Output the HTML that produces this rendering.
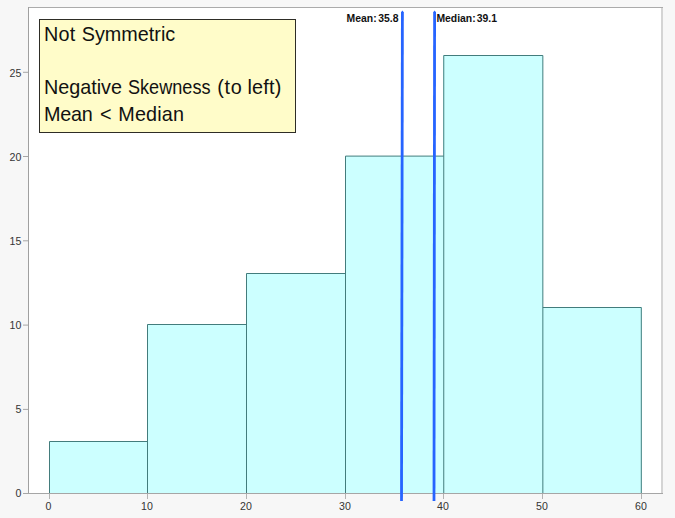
<!DOCTYPE html>
<html>
<head>
<meta charset="utf-8">
<title>Histogram</title>
<style>
html,body{margin:0;padding:0;}
body{width:675px;height:518px;background:#f7f7f7;position:relative;overflow:hidden;font-family:"Liberation Sans",sans-serif;}
.abs{position:absolute;}
#plot{position:absolute;left:29px;top:8px;width:632px;height:485px;background:#fff;}
.bar{position:absolute;background:#ccffff;border:1px solid #4d8a8a;box-sizing:border-box;}
.vl{position:absolute;background:#2f6bff;width:3px;}
.tick{position:absolute;background:#b2b2b2;}
.xl{position:absolute;font-size:10.6px;color:#353535;width:40px;text-align:center;top:500px;line-height:12px;}
.yl{position:absolute;font-size:10.6px;color:#353535;width:21.4px;text-align:right;left:0;line-height:12px;}
.ml{position:absolute;font-size:10.4px;font-weight:bold;color:#111;top:13px;line-height:12px;white-space:nowrap;}
#note{position:absolute;left:39px;top:19px;width:257px;height:114px;box-sizing:border-box;border:1px solid #2e2d26;background:#fffcc9;}
#note div{position:absolute;font-size:19.8px;color:#111;white-space:nowrap;line-height:22px;}
</style>
</head>
<body>
<div id="plot"></div>
<!-- frame -->
<div class="abs" style="left:28px;top:7px;width:635px;height:1px;background:#ababab;"></div>
<div class="abs" style="left:28px;top:7px;width:1px;height:487px;background:#a0a0a0;"></div>
<div class="abs" style="left:661px;top:8px;width:2px;height:486px;background:#d4d4d4;"></div>
<div class="abs" style="left:23px;top:493px;width:640px;height:1px;background:#a6a6a6;"></div>

<!-- bars -->
<svg class="abs" style="left:0;top:0;" width="675" height="518" viewBox="0 0 675 518">
<g fill="#ccffff" stroke="none" shape-rendering="crispEdges">
<rect x="49" y="441" width="99" height="52"/>
<rect x="147" y="324" width="100" height="169"/>
<rect x="246" y="273" width="100" height="220"/>
<rect x="345" y="156" width="99" height="337"/>
<rect x="443" y="55" width="100" height="438"/>
<rect x="542" y="307" width="100" height="186"/>
</g>
<g fill="none" stroke="#437c7c" stroke-width="1">
<path d="M49.5 493 V441.5 H147.5"/>
<path d="M147.5 493 V324.5 H246.5"/>
<path d="M246.5 493 V273.5 H345.5"/>
<path d="M345.5 493 V156.1 H443.75"/>
<path d="M443.75 493 V55.5 H542.85 V493"/>
<path d="M542.85 307.5 H641.3 V493"/>
</g>
</svg>
<div class="abs" style="left:29px;top:493px;width:634px;height:1px;background:#a6a6a6;"></div>

<!-- y ticks -->
<svg class="abs" style="left:0;top:0;" width="675" height="518" viewBox="0 0 675 518">
<g stroke="#a6a6a6" stroke-width="1" fill="none">
<path d="M23 72.3H28"/>
<path d="M23 156.5H28"/>
<path d="M23 240.8H28"/>
<path d="M23 325.1H28"/>
<path d="M23 409.4H28"/>
</g>
</svg>
<!-- x ticks -->
<div class="tick" style="left:49px;top:494px;width:1px;height:5px;"></div>
<div class="tick" style="left:147px;top:494px;width:1px;height:5px;"></div>
<div class="tick" style="left:246px;top:494px;width:1px;height:5px;"></div>
<div class="tick" style="left:345px;top:494px;width:1px;height:5px;"></div>
<div class="tick" style="left:443px;top:494px;width:1px;height:5px;"></div>
<div class="tick" style="left:542px;top:494px;width:1px;height:5px;"></div>
<div class="tick" style="left:641px;top:494px;width:1px;height:5px;"></div>

<!-- y labels -->
<div class="yl" style="top:67px;">25</div>
<div class="yl" style="top:151px;">20</div>
<div class="yl" style="top:235px;">15</div>
<div class="yl" style="top:319px;">10</div>
<div class="yl" style="top:403px;">5</div>
<div class="yl" style="top:487px;">0</div>
<!-- x labels -->
<div class="xl" style="left:28.4px;">0</div>
<div class="xl" style="left:127px;">10</div>
<div class="xl" style="left:226px;">20</div>
<div class="xl" style="left:325px;">30</div>
<div class="xl" style="left:423px;">40</div>
<div class="xl" style="left:522px;">50</div>
<div class="xl" style="left:621px;">60</div>

<!-- reference lines -->
<svg class="abs" style="left:0;top:0;" width="675" height="518" viewBox="0 0 675 518">
<g stroke="#2664ff" stroke-width="2.8" fill="none">
<line x1="402.4" y1="12" x2="401.5" y2="501"/>
<path d="M401 12.2 L402.4 10.6 L403.8 12.2Z" fill="#2664ff" stroke="none"/>
<line x1="434.6" y1="12" x2="434.0" y2="501"/>
<path d="M433.2 12.2 L434.6 10.6 L436 12.2Z" fill="#2664ff" stroke="none"/>
</g>
</svg>
<div class="ml" style="left:346.6px;">Mean:</div>
<div class="ml" style="left:378.2px;">35.8</div>
<div class="ml" style="left:436.4px;">Median:</div>
<div class="ml" style="left:476.7px;">39.1</div>

<!-- annotation -->
<div id="note">
<div style="left:3.90px;top:3px;letter-spacing:0.33px;">Not</div>
<div style="left:41.78px;top:3px;letter-spacing:0.01px;">Symmetric</div>
<div style="left:3.90px;top:56px;letter-spacing:-0.01px;">Negative</div>
<div style="left:88.04px;top:56px;letter-spacing:0.00px;transform-origin:0 0;transform:scaleX(0.915);">Skewness</div>
<div style="left:177.24px;top:56px;letter-spacing:0.74px;">(to</div>
<div style="left:207.42px;top:56px;letter-spacing:0.21px;">left)</div>
<div style="left:3.90px;top:83px;letter-spacing:-0.24px;">Mean</div>
<div style="left:60.05px;top:83px;letter-spacing:0.00px;">&lt;</div>
<div style="left:78.30px;top:83px;letter-spacing:0.16px;">Median</div>
</div>
</body>
</html>
